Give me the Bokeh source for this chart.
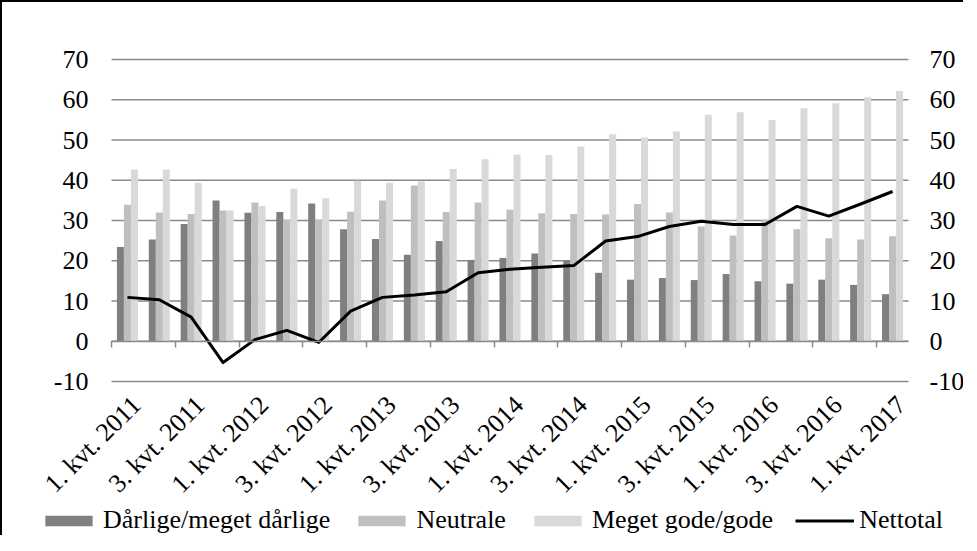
import math
import numpy as np
from bokeh.plotting import figure
from bokeh.layouts import column
from bokeh.models import (ColumnDataSource, Range1d, FixedTicker, LinearAxis,
                          Legend, LegendItem)
from bokeh.transform import dodge
from bokeh.embed import file_html
from bokeh.resources import INLINE

quarters = []
for yr in range(2011, 2017):
    for q in range(1, 5):
        quarters.append(f"{q}. kvt. {yr}")
quarters.append("1. kvt. 2017")

darlige = [23.4, 25.3, 29.1, 35.0, 31.9, 32.1, 34.2, 27.8, 25.4, 21.5, 24.9, 20.2, 20.7,
           21.8, 20.0, 17.0, 15.3, 15.7, 15.2, 16.7, 14.9, 14.3, 15.3, 14.0, 11.7]
neutrale = [33.9, 32.0, 31.6, 32.5, 34.5, 30.2, 30.2, 32.2, 35.0, 38.7, 32.1, 34.5, 32.7,
            31.8, 31.6, 31.5, 34.1, 32.0, 28.5, 26.3, 30.2, 27.8, 25.6, 25.3, 26.1]
gode = [42.7, 42.7, 39.4, 32.5, 33.6, 37.9, 35.5, 39.9, 39.4, 39.7, 42.8, 45.2, 46.4,
        46.3, 48.4, 51.4, 50.6, 52.1, 56.3, 56.9, 55.0, 57.9, 59.1, 60.6, 62.2]
netto = [10.9, 10.3, 6.0, -5.3, 0.4, 2.7, -0.3, 7.5, 10.9, 11.5, 12.3, 17.0, 17.9,
         18.4, 18.8, 24.9, 26.0, 28.5, 29.8, 29.0, 29.0, 33.5, 31.1, 34.1, 37.2]
y_ticks = [-10, 0, 10, 20, 30, 40, 50, 60, 70]
series_names = ["Dårlige/meget dårlige", "Neutrale", "Meget gode/gode", "Nettotal"]
colors = ["#7f7f7f", "#bfbfbf", "#d9d9d9", "black"]

FONT = "Liberation Serif"
GRID = "#8a8a8a"

n = len(quarters)
xpos = np.arange(n) + 0.5
src = ColumnDataSource(dict(x=xpos, d=darlige, nu=neutrale, g=gode, nt=netto))

# canvas geometry (pixels, inside a 2px top/left border)
W, H = 961, 533
PLOT_L, PLOT_R = 109, 906        # x = 0 and x = n
PLOT_T, PLOT_B = 57, 379         # y = 70 and y = -10
ymax, ymin = y_ticks[-1], y_ticks[0]
pxu_x = (PLOT_R - PLOT_L) / n
pxu_y = (PLOT_B - PLOT_T) / (ymax - ymin)
x_range = Range1d(0 - PLOT_L / pxu_x, n + (W - PLOT_R) / pxu_x)
y_range = Range1d(ymin - (H - PLOT_B) / pxu_y, ymax + PLOT_T / pxu_y)

p = figure(width=W, height=H, output_backend="svg", toolbar_location=None,
           x_range=x_range, y_range=y_range, x_axis_type=None, y_axis_type=None,
           min_border=0, min_border_left=0, min_border_right=0,
           min_border_top=0, min_border_bottom=0)
p.outline_line_color = None

# horizontal gridlines across the plot area
p.segment(x0=[0] * len(y_ticks), x1=[n] * len(y_ticks), y0=y_ticks, y1=y_ticks,
          line_color=GRID, line_width=1.5)

bw = 0.22
r1 = p.vbar(x=dodge("x", -bw, range=None), top="d", bottom=0, width=bw, source=src,
            fill_color=colors[0], line_color=None)
r2 = p.vbar(x=dodge("x", 0, range=None), top="nu", bottom=0, width=bw, source=src,
            fill_color=colors[1], line_color=None)
r3 = p.vbar(x=dodge("x", bw, range=None), top="g", bottom=0, width=bw, source=src,
            fill_color=colors[2], line_color=None)

# zero axis with boundary ticks every second quarter
zt = [float(i) for i in range(0, n, 2)]
za = LinearAxis(fixed_location=0, ticker=FixedTicker(ticks=zt), bounds=(0, n),
                major_label_overrides={t: "" for t in zt},
                major_label_text_font_size="0px",
                major_tick_in=6, major_tick_out=0, minor_tick_in=0, minor_tick_out=0,
                axis_line_color=GRID, axis_line_width=1.5,
                major_tick_line_color=GRID, major_tick_line_width=1.5)
p.add_layout(za, "above")

r4 = p.line(x="x", y="nt", source=src, line_color=colors[3], line_width=3,
            line_join="round")

# category label axis (fixed at -10): rotated labels for every second quarter
lab_shift = 0.28
lab_ticks = [float(xpos[i]) + lab_shift for i in range(0, n, 2)]
xa = LinearAxis(fixed_location=ymin, ticker=FixedTicker(ticks=lab_ticks),
                major_label_overrides={float(xpos[i]) + lab_shift: quarters[i]
                                       for i in range(0, n, 2)},
                major_label_orientation=math.pi / 4,
                major_tick_out=0, major_tick_in=0, minor_tick_out=0, minor_tick_in=0,
                axis_line_color=None, major_label_standoff=19,
                major_label_text_font=FONT, major_label_text_font_size="26px",
                major_label_text_color="black")
p.add_layout(xa, "below")

# y axes fixed at both ends of the category range
ya = LinearAxis(fixed_location=0)
yr_ax = LinearAxis(fixed_location=n)
p.add_layout(ya, "left")
p.add_layout(yr_ax, "right")
for ax in (ya, yr_ax):
    ax.ticker = FixedTicker(ticks=y_ticks)
    ax.major_label_overrides = {t: str(t) for t in y_ticks}
    ax.major_tick_out = 0
    ax.major_tick_in = 0
    ax.minor_tick_out = 0
    ax.minor_tick_in = 0
    ax.axis_line_color = None
    ax.major_label_text_font = FONT
    ax.major_label_text_font_size = "26px"
    ax.major_label_text_color = "black"
ya.major_label_standoff = 23
yr_ax.major_label_standoff = 21

legend = Legend(items=[LegendItem(label=series_names[0], renderers=[r1]),
                       LegendItem(label=series_names[1], renderers=[r2]),
                       LegendItem(label=series_names[2], renderers=[r3]),
                       LegendItem(label=series_names[3], renderers=[r4])],
                location=(37, 0), orientation="horizontal",
                glyph_width=59, glyph_height=13, label_standoff=5, spacing=22,
                padding=0, margin=0, border_line_color=None, background_fill_alpha=0,
                label_text_font=FONT, label_text_font_size="26px", label_text_color="black")
p.add_layout(legend, "center")

layout = column(p, spacing=0,
                styles={"border-top": "2px solid black", "border-left": "2px solid black"})

open("out.html", "w").write(file_html(layout, INLINE))
